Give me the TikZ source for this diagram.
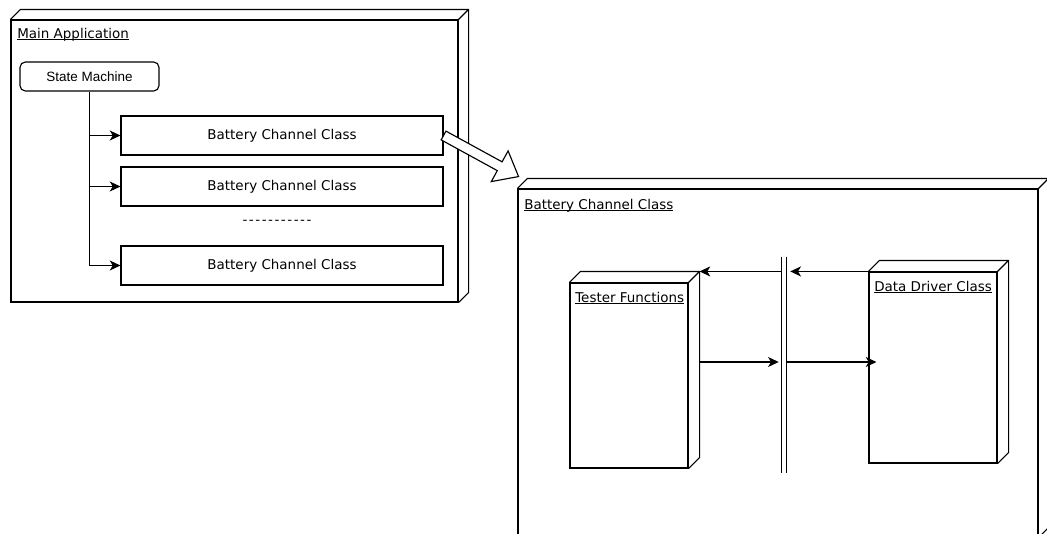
\documentclass[tikz,border=0pt]{standalone}
\usepackage{fontspec}
\setmainfont{DejaVu Sans}
\newfontfamily\helv{Liberation Sans}
\usetikzlibrary{arrows.meta,fit,calc}

% text with a thin rule just under its baseline
\newcommand\ulabel[1]{\setbox0\hbox{#1}\rlap{\rule[-1.6pt]{\wd0}{0.6pt}}\box0}

\begin{document}
\begin{tikzpicture}[x=0.75pt, y=0.75pt,
  edge/.style={draw=black, line width=0.85pt},
  cube/.style={edge, inner sep=0pt, fill=white},
  txt/.style={font=\fontsize{10.1pt}{12pt}\selectfont},
  classbox/.style={edge, inner sep=0pt, label={[txt, inner sep=0pt]center:#1}},
  title/.style={txt, inner sep=0pt, anchor=base west},
  arr/.style={edge, -{Stealth[length=8pt, width=7.5pt, inset=2.2pt]}},
]
\useasboundingbox (0,0) rectangle (1047,-533);

% ---------- main application ----------
\node[cube, fit={(11,-20) (458,-302)}] (main) {};
\node[title] (maint) at (17,-38) {\ulabel{Main Application}};

\node[edge, rounded corners=4pt, inner sep=0pt, fit={(20,-62) (159,-91)},
      label={[inner sep=0pt, font=\helv\fontsize{10.1pt}{12pt}\selectfont]center:State Machine}] (sm) {};

\node[classbox=Battery Channel Class, fit={(121,-116) (443,-155)}] (b1) {};
\node[classbox=Battery Channel Class, fit={(121,-167) (443,-206)}] (b2) {};
\node[classbox=Battery Channel Class, fit={(121,-246) (443,-285)}] (b3) {};
\node[txt, inner sep=0pt] (more) at (277,-222)
  {\foreach \k in {1,...,11}{\makebox[4.8pt]{-}}};

\draw[arr] (sm.south) |- (b1.west);
\draw[arr] (sm.south) |- (b2.west);
\draw[arr] (sm.south) |- (b3.west);

% ---------- battery channel class detail ----------
\node[cube, fit={(518,-189) (1038,-537)}] (chan) {};
\node[title] (chant) at (524,-209) {\ulabel{Battery Channel Class}};

\node[cube, fit={(570,-283) (688,-468)}] (tester) {};
\node[title] (testt) at (575,-302) {\ulabel{Tester Functions}};

\node[cube, fit={(869,-272) (997,-463)}] (driver) {};
\node[title] (drivt) at (874,-291) {\ulabel{Data Driver Class}};

% depth faces of the 3D boxes
\foreach \n/\d in {main/10, chan/10, tester/11, driver/11}
  \draw[edge] (\n.north west) -- ++(\d,\d) -- ($(\n.north east)+(\d,\d)$)
              -- ($(\n.south east)+(\d,\d)$) -- (\n.south east)
              (\n.north east) -- ($(\n.north east)+(\d,\d)$);

% interface boundary (double line)
\node[inner sep=0pt, minimum width=3pt, minimum height=162pt] (wall) at (784,-365) {};
\draw[edge] (wall.north west) -- (wall.south west)
            (wall.north east) -- (wall.south east);

\coordinate (tcorner) at ($(tester.north east)+(11,11)$);
\coordinate (lvl) at (0,-362);

\draw[arr, line width=1.3pt] (driver.north west) -- ($(wall.east |- driver.north west)+(4,0)$);
\draw[arr] (wall.west |- tcorner) -- (tcorner);
\draw[arr] (tcorner |- lvl) -- ($(wall.west |- lvl)+(-3,0)$);
\draw[arr] (wall.east |- lvl) -- ($(driver.west |- lvl)+(8,0)$);

% hollow block arrow from the first channel to its detail view
\begin{scope}[shift={(b1.east)}, rotate=-28.7]
  \draw[edge, fill=white] (0,5) -- (64,5) -- (64,17.5) -- (85.5,0)
        -- (64,-17.5) -- (64,-5) -- (0,-5) -- cycle;
\end{scope}
\end{tikzpicture}
\end{document}
